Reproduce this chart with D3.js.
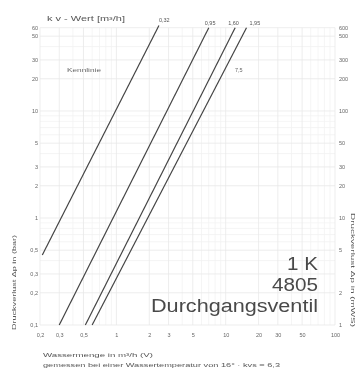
<!DOCTYPE html>
<html>
<head>
<meta charset="utf-8">
<script src="https://cdn.jsdelivr.net/npm/d3@7"></script>
<style>
  html, body { margin: 0; padding: 0; background: #fff; }
  svg { display: block; }
  text { font-family: "Liberation Sans", Arial, sans-serif; }
</style>
</head>
<body>
<svg id="chart" width="357" height="370"></svg>
<script>
// ---- data ----
const flowTicks = [0.2, 0.3, 0.5, 1, 2, 3, 5, 10, 20, 30, 50, 100];          // Wassermenge m³/h
const dpTicks = [0.1, 0.2, 0.3, 0.5, 1, 2, 3, 5, 10, 20, 30, 50, 60];       // Δp bar
const dpTicksRight = [1, 2, 5, 10, 20, 30, 50, 100, 200, 300, 500, 600];    // Δp mWS
const minorFlow = [0.4, 0.6, 0.7, 0.8, 0.9, 4, 6, 7, 8, 9, 40, 60, 70, 80, 90];
const minorDp = [0.4, 0.6, 0.7, 0.8, 0.9, 4, 6, 7, 8, 9, 40];
const kvLabels = ["0,32", "0,95", "1,60", "1,95"];
// each kv line: [flow, pressure drop] end points
const kvLine1 = [[0.21, 0.45], [2.45, 63]];
const kvLine2 = [[0.30, 0.10], [7.0, 60]];
const kvLine3 = [[0.52, 0.10], [12.2, 60]];
const kvLine4 = [[0.60, 0.10], [15.5, 60]];
const kvLines = [kvLine1, kvLine2, kvLine3, kvLine4];

// label nudges (styling only)
const kvLabelDx = [0, -4, -7, 3];

const svg = d3.select("#chart");
const defs = svg.append("defs");
defs.append("filter").attr("id", "soft")
  .append("feGaussianBlur").attr("stdDeviation", 0.45);

const root = svg.append("g").attr("filter", "url(#soft)");

const x = d3.scaleLog().domain([0.2, 100]).range([40, 335]);
const y = d3.scaleLog().domain([0.1, 60]).range([325, 27.7]);
const yR = d3.scaleLog().domain([1, 600]).range([325, 27.7]);

const fmt = d => String(d).replace(".", ",");

// grid
const grid = root.append("g");
grid.selectAll(".vmin").data(minorFlow).join("line")
  .attr("x1", d => x(d)).attr("x2", d => x(d))
  .attr("y1", y(60)).attr("y2", y(0.1))
  .attr("stroke", "#f3f3f3").attr("stroke-width", 0.8);
grid.selectAll(".hmin").data(minorDp).join("line")
  .attr("y1", d => y(d)).attr("y2", d => y(d))
  .attr("x1", x(0.2)).attr("x2", x(100))
  .attr("stroke", "#f3f3f3").attr("stroke-width", 0.8);
grid.selectAll(".vmaj").data(flowTicks).join("line")
  .attr("x1", d => x(d)).attr("x2", d => x(d))
  .attr("y1", y(60)).attr("y2", y(0.1))
  .attr("stroke", "#e8e8e8").attr("stroke-width", 0.8);
grid.selectAll(".hmaj").data(dpTicks).join("line")
  .attr("y1", d => y(d)).attr("y2", d => y(d))
  .attr("x1", x(0.2)).attr("x2", x(100))
  .attr("stroke", "#e8e8e8").attr("stroke-width", 0.8);

// axes (labels only)
function styleAxis(g) {
  g.select(".domain").remove();
  g.selectAll(".tick line").remove();
  g.selectAll("text").attr("fill", "#666").attr("font-size", 5.5)
    .attr("font-family", "Liberation Sans, Arial, sans-serif");
}
root.append("g").attr("transform", "translate(0,331)")
  .call(d3.axisBottom(x).tickValues(flowTicks).tickFormat(fmt).tickSize(0).tickPadding(2))
  .call(styleAxis);
root.append("g").attr("transform", "translate(38,0)")
  .call(d3.axisLeft(y).tickValues(dpTicks).tickFormat(fmt).tickSize(0).tickPadding(0))
  .call(styleAxis);
root.append("g").attr("transform", "translate(339,0)")
  .call(d3.axisRight(yR).tickValues(dpTicksRight).tickFormat(fmt).tickSize(0).tickPadding(0))
  .call(styleAxis);

// kv lines
const lineGen = d3.line().x(d => x(d[0])).y(d => y(d[1]));
root.selectAll(".kv").data(kvLines).join("path")
  .attr("d", lineGen)
  .attr("fill", "none").attr("stroke", "#444").attr("stroke-width", 1.2);
root.selectAll(".kvlab").data(kvLines).join("text")
  .attr("x", (d, i) => x(d[1][0]) + kvLabelDx[i])
  .attr("y", d => y(d[1][1]) - 3)
  .attr("font-size", 5.5).attr("fill", "#555")
  .text((d, i) => kvLabels[i]);

// texts
root.append("text").attr("x", 47).attr("y", 21).attr("font-size", 6.5).attr("fill", "#555")
  .attr("textLength", 78).attr("lengthAdjust", "spacingAndGlyphs")
  .text("k v - Wert [m³/h]");
root.append("text").attr("x", 67).attr("y", 72).attr("font-size", 5.5).attr("fill", "#666")
  .attr("textLength", 34).attr("lengthAdjust", "spacingAndGlyphs")
  .text("Kennlinie");
root.append("text").attr("x", 235).attr("y", 72).attr("font-size", 5.5).attr("fill", "#666")
  .text("7,5");

root.append("text").attr("x", 318).attr("y", 270).attr("text-anchor", "end")
  .attr("font-size", 18).attr("fill", "#4a4a4a")
  .attr("textLength", 31).attr("lengthAdjust", "spacingAndGlyphs").text("1 K");
root.append("text").attr("x", 318).attr("y", 291).attr("text-anchor", "end")
  .attr("font-size", 18).attr("fill", "#4a4a4a")
  .attr("textLength", 46).attr("lengthAdjust", "spacingAndGlyphs").text("4805");
root.append("text").attr("x", 318).attr("y", 312).attr("text-anchor", "end")
  .attr("font-size", 18).attr("fill", "#4a4a4a")
  .attr("textLength", 167).attr("lengthAdjust", "spacingAndGlyphs").text("Durchgangsventil");

root.append("text").attr("x", 43).attr("y", 357).attr("font-size", 6).attr("fill", "#555")
  .attr("textLength", 110).attr("lengthAdjust", "spacingAndGlyphs")
  .text("Wassermenge in m³/h (V)");
root.append("text").attr("x", 43).attr("y", 367).attr("font-size", 6).attr("fill", "#555")
  .attr("textLength", 237).attr("lengthAdjust", "spacingAndGlyphs")
  .text("gemessen bei einer Wassertemperatur von 16° · kvs = 6,3");

root.append("text").attr("transform", "translate(16,330) rotate(-90)")
  .attr("font-size", 6).attr("fill", "#555")
  .attr("textLength", 95).attr("lengthAdjust", "spacingAndGlyphs")
  .text("Druckverlust Δp in (bar)");
root.append("text").attr("transform", "translate(351,213) rotate(90)")
  .attr("font-size", 6).attr("fill", "#555")
  .attr("textLength", 114).attr("lengthAdjust", "spacingAndGlyphs")
  .text("Druckverlust Δp in (mWS)");
</script>
</body>
</html>
